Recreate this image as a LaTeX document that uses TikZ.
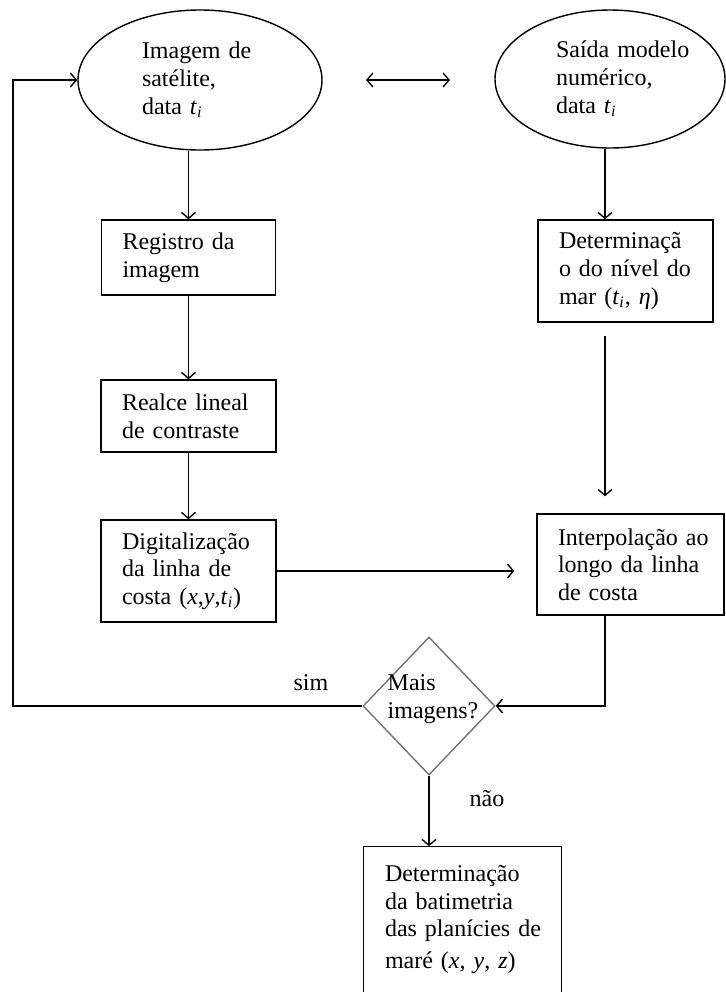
\documentclass[tikz,border=0pt]{standalone}
\usepackage{fontspec}
\setmainfont{Liberation Serif}
\usetikzlibrary{arrows.meta,shapes.geometric}
\definecolor{DecClr}{rgb}{0.45,0.45,0.45}
\newcommand{\tdata}{\textit{t}\textsubscript{\textit{i}}}
\hyphenpenalty=10000
\exhyphenpenalty=10000

\begin{document}
\begin{tikzpicture}[x=0.5pt,y=-0.5pt,font=\fontsize{12}{13.8}\selectfont,
  >={Straight Barb[length=3pt,width=7pt]},
  flow/.style={line width=0.7pt,->},
  startshape/.style={draw,ellipse,line width=0.7pt,align=left,inner sep=0pt},
  procbox/.style={draw,rectangle,line width=0.7pt,align=left,inner xsep=10.5pt,inner ysep=0pt},
  decshape/.style={draw=DecClr,diamond,line width=0.7pt,inner sep=0pt,minimum width=66pt,minimum height=69pt}]
\useasboundingbox (0,0) rectangle (726,992);

\node[startshape,minimum width=122pt,minimum height=70pt,text width=58pt] (img) at (200,80)
  {Imagem de\\satélite,\\data \tdata};
\node[startshape,minimum width=115pt,minimum height=69pt,text width=54pt] (modelo) at (610,79)
  {Saída~modelo\\numérico,\\data \tdata};
\coordinate (la) at (366,80);
\coordinate (lb) at (450,80);

\node[procbox,minimum width=87pt,minimum height=37.5pt,text width=66pt] (reg) at (188.5,257.5)
  {Registro da\\imagem};
\node[procbox,minimum width=87.5pt,minimum height=36pt,text width=66.5pt] (realce) at (188.5,416)
  {Realce~lineal\\de contraste};
\node[procbox,minimum width=87.5pt,minimum height=51pt,text width=66.5pt] (digit) at (188.5,571)
  {Digitalização\\da linha de\\costa (\textit{x},\textit{y},\tdata)};

\node[procbox,minimum width=87.5pt,minimum height=51pt,text width=66.5pt] (determ) at (625.5,271)
  {Determinaçã\\o~do~nível~do\\mar (\tdata,\ \textit{η})};
\node[procbox,minimum width=93.5pt,minimum height=50.5pt,text width=72.5pt] (interp) at (630.5,564.5)
  {Interpolação~ao\\longo~da~linha\\de costa};
\coordinate (rcol) at (605,0);

\node[decshape,label={[align=left,xshift=2pt,yshift=3.5pt]center:Mais\\imagens?}] (dec) at (429,706) {};
\node (sim) at (311,683) {sim};
\node (nao) at (487,799) {não};
\coordinate (loop) at (13,400);

\node[procbox,draw=none,minimum width=98.5pt,minimum height=72.5pt,text width=77.5pt] (fim) at (462.5,919.5)
  {Determinação\\da~batimetria\\das~planícies~de\\[2pt]maré (\textit{x}, \textit{y}, \textit{z})};
\draw[line width=0.7pt] (fim.south west) -- (fim.north west) -- (fim.north east) -- (fim.south east);

% left column
\draw[flow] (reg.north |- img.south) -- (reg.north);
\draw[flow] (reg.south) -- (realce.north);
\draw[flow] (realce.south) -- (digit.north);
\draw[flow,shorten >=11pt] (digit.east) -- (interp.west |- digit.east);

% right column
\draw[flow] (rcol |- modelo.south) -- (rcol |- determ.north);
\draw[flow,shorten <=6.5pt,shorten >=8.5pt] (rcol |- determ.south) -- (rcol |- interp.north);
\draw[flow] (rcol |- interp.south) |- (dec.east);

% loop and end
\draw[flow] (dec.west) -| (loop) |- (img.west);
\draw[flow] (dec.south) -- (dec.south |- fim.north);
\draw[line width=0.7pt,<->] (la) -- (lb);
\end{tikzpicture}
\end{document}
